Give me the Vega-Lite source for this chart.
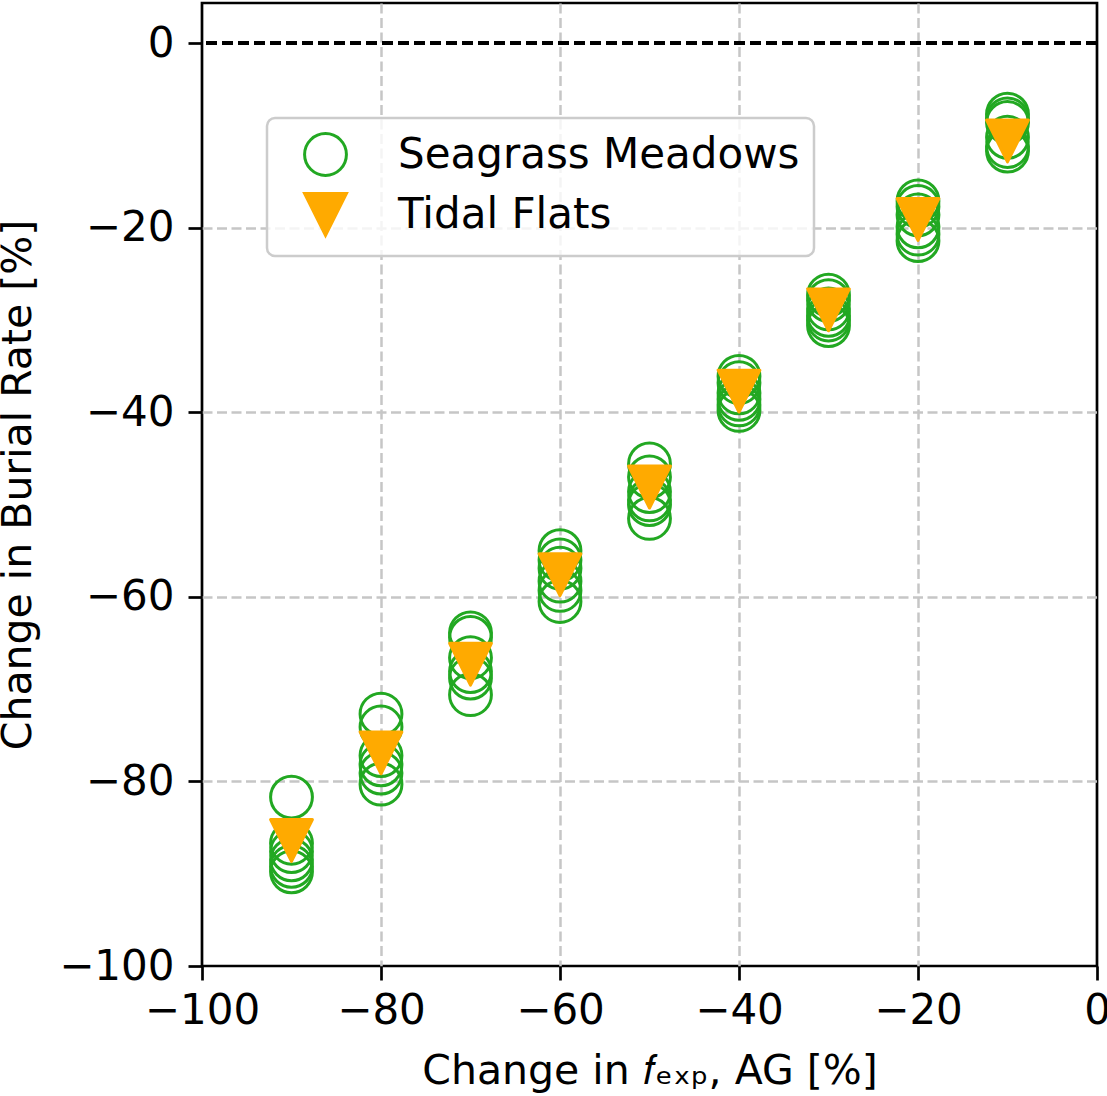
{
  "$schema": "https://vega.github.io/schema/vega-lite/v6.json",
  "autosize": {"type": "none"},
  "width": 895,
  "height": 963,
  "padding": {"left": 202, "top": 3, "right": 10, "bottom": 130},
  "config": {
    "font": "DejaVu Sans",
    "view": {"stroke": "black", "strokeWidth": 2.7},
    "axis": {
      "domain": false,
      "tickColor": "black",
      "tickWidth": 2.7,
      "tickSize": 14,
      "labelFontSize": 42,
      "labelColor": "black",
      "labelFlush": false,
      "labelOverlap": false,
      "titleFontSize": 41,
      "titleFontWeight": "normal",
      "titleColor": "black",
      "grid": true,
      "gridColor": "#c6c6c6",
      "gridWidth": 2.5,
      "gridDash": [10, 4.5],
      "gridOpacity": {"condition": {"test": "datum.value === 0 || datum.value === -100", "value": 0}, "value": 1}
    },
    "legend": {
      "labelFontSize": 42,
      "labelColor": "black",
      "labelLimit": 0,
      "symbolSize": 1750,
      "symbolStrokeWidth": 3,
      "padding": 14,
      "rowPadding": 5,
      "symbolOffset": 22,
      "labelOffset": 50,
      "fillColor": "rgba(255,255,255,0.8)",
      "strokeColor": "#cccccc",
      "strokeWidth": 2.5,
      "cornerRadius": 8
    }
  },
  "data": {
    "values": [
      {"x": -90, "y": -81.7, "s": "Seagrass Meadows"},
      {"x": -90, "y": -86.7, "s": "Seagrass Meadows"},
      {"x": -90, "y": -87.6, "s": "Seagrass Meadows"},
      {"x": -90, "y": -88.5, "s": "Seagrass Meadows"},
      {"x": -90, "y": -89.2, "s": "Seagrass Meadows"},
      {"x": -90, "y": -89.8, "s": "Seagrass Meadows"},
      {"x": -80, "y": -72.7, "s": "Seagrass Meadows"},
      {"x": -80, "y": -74.1, "s": "Seagrass Meadows"},
      {"x": -80, "y": -77.2, "s": "Seagrass Meadows"},
      {"x": -80, "y": -78.2, "s": "Seagrass Meadows"},
      {"x": -80, "y": -79.1, "s": "Seagrass Meadows"},
      {"x": -80, "y": -80.3, "s": "Seagrass Meadows"},
      {"x": -70, "y": -63.9, "s": "Seagrass Meadows"},
      {"x": -70, "y": -64.4, "s": "Seagrass Meadows"},
      {"x": -70, "y": -66.6, "s": "Seagrass Meadows"},
      {"x": -70, "y": -68.1, "s": "Seagrass Meadows"},
      {"x": -70, "y": -68.8, "s": "Seagrass Meadows"},
      {"x": -70, "y": -70.6, "s": "Seagrass Meadows"},
      {"x": -60, "y": -55.0, "s": "Seagrass Meadows"},
      {"x": -60, "y": -56.0, "s": "Seagrass Meadows"},
      {"x": -60, "y": -56.9, "s": "Seagrass Meadows"},
      {"x": -60, "y": -58.3, "s": "Seagrass Meadows"},
      {"x": -60, "y": -59.3, "s": "Seagrass Meadows"},
      {"x": -60, "y": -60.5, "s": "Seagrass Meadows"},
      {"x": -50, "y": -45.6, "s": "Seagrass Meadows"},
      {"x": -50, "y": -47.0, "s": "Seagrass Meadows"},
      {"x": -50, "y": -48.6, "s": "Seagrass Meadows"},
      {"x": -50, "y": -49.5, "s": "Seagrass Meadows"},
      {"x": -50, "y": -50.0, "s": "Seagrass Meadows"},
      {"x": -50, "y": -51.5, "s": "Seagrass Meadows"},
      {"x": -40, "y": -36.1, "s": "Seagrass Meadows"},
      {"x": -40, "y": -36.8, "s": "Seagrass Meadows"},
      {"x": -40, "y": -37.9, "s": "Seagrass Meadows"},
      {"x": -40, "y": -38.6, "s": "Seagrass Meadows"},
      {"x": -40, "y": -39.2, "s": "Seagrass Meadows"},
      {"x": -40, "y": -39.8, "s": "Seagrass Meadows"},
      {"x": -30, "y": -27.3, "s": "Seagrass Meadows"},
      {"x": -30, "y": -27.9, "s": "Seagrass Meadows"},
      {"x": -30, "y": -28.8, "s": "Seagrass Meadows"},
      {"x": -30, "y": -29.5, "s": "Seagrass Meadows"},
      {"x": -30, "y": -30.0, "s": "Seagrass Meadows"},
      {"x": -30, "y": -30.6, "s": "Seagrass Meadows"},
      {"x": -20, "y": -17.1, "s": "Seagrass Meadows"},
      {"x": -20, "y": -17.7, "s": "Seagrass Meadows"},
      {"x": -20, "y": -18.6, "s": "Seagrass Meadows"},
      {"x": -20, "y": -19.9, "s": "Seagrass Meadows"},
      {"x": -20, "y": -20.7, "s": "Seagrass Meadows"},
      {"x": -20, "y": -21.4, "s": "Seagrass Meadows"},
      {"x": -10, "y": -7.7, "s": "Seagrass Meadows"},
      {"x": -10, "y": -8.2, "s": "Seagrass Meadows"},
      {"x": -10, "y": -8.6, "s": "Seagrass Meadows"},
      {"x": -10, "y": -10.2, "s": "Seagrass Meadows"},
      {"x": -10, "y": -11.2, "s": "Seagrass Meadows"},
      {"x": -10, "y": -11.7, "s": "Seagrass Meadows"},
      {"x": -90, "y": -86.4, "s": "Tidal Flats"},
      {"x": -80, "y": -76.9, "s": "Tidal Flats"},
      {"x": -70, "y": -67.3, "s": "Tidal Flats"},
      {"x": -60, "y": -57.6, "s": "Tidal Flats"},
      {"x": -50, "y": -48.1, "s": "Tidal Flats"},
      {"x": -40, "y": -37.7, "s": "Tidal Flats"},
      {"x": -30, "y": -28.9, "s": "Tidal Flats"},
      {"x": -20, "y": -19.1, "s": "Tidal Flats"},
      {"x": -10, "y": -10.6, "s": "Tidal Flats"}
    ]
  },
  "layer": [
    {
      "mark": {"type": "rule", "color": "black", "strokeWidth": 2.8, "strokeDash": [11, 5]},
      "encoding": {"y": {"datum": 0, "type": "quantitative"}}
    },
    {
      "mark": {"type": "point", "opacity": 1, "size": 1750, "strokeWidth": 3, "strokeJoin": "round"},
      "encoding": {
        "x": {
          "field": "x", "type": "quantitative",
          "scale": {"domain": [-100, 0], "nice": false, "zero": false},
          "axis": {"values": [-100, -80, -60, -40, -20, 0], "labelPadding": 10, "title": "Change in 𝑓ₑₓₚ, AG [%]", "titlePadding": 20}
        },
        "y": {
          "field": "y", "type": "quantitative",
          "scale": {"domain": [-100, 4.35], "nice": false, "zero": false},
          "axis": {"values": [-100, -80, -60, -40, -20, 0], "labelPadding": 14, "title": "Change in Burial Rate [%]", "titlePadding": 19}
        },
        "shape": {
          "field": "s", "type": "nominal",
          "scale": {"domain": ["Seagrass Meadows", "Tidal Flats"], "range": ["circle", "M0,1L-1,-1L1,-1Z"]},
          "legend": {"title": null, "orient": "none", "legendX": 65, "legendY": 115}
        },
        "stroke": {
          "field": "s", "type": "nominal",
          "scale": {"domain": ["Seagrass Meadows", "Tidal Flats"], "range": ["#22a822", "#ffaa00"]},
          "legend": {"title": null, "orient": "none", "legendX": 65, "legendY": 115}
        },
        "fill": {
          "field": "s", "type": "nominal",
          "scale": {"domain": ["Seagrass Meadows", "Tidal Flats"], "range": ["transparent", "#ffaa00"]},
          "legend": {"title": null, "orient": "none", "legendX": 65, "legendY": 115}
        }
      }
    }
  ]
}
